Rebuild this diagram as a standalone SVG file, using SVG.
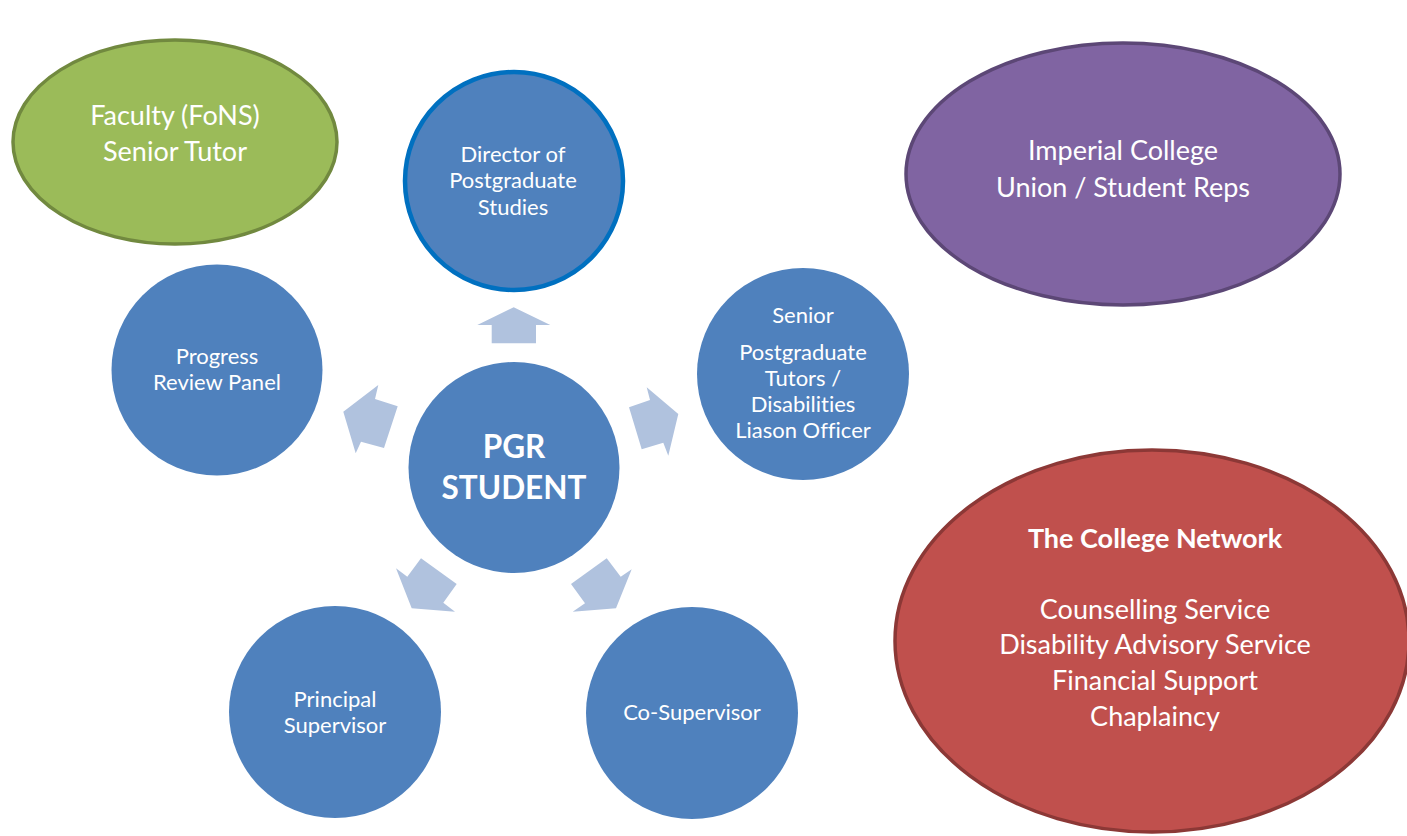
<svg xmlns="http://www.w3.org/2000/svg" width="1407" height="836" viewBox="0 0 1407 836">
  <style>
    .lbl { font-family: Lato, "Open Sans", "Liberation Sans", sans-serif; fill: #ffffff; text-anchor: middle; font-variant-ligatures: none; }
    .small { font-size: 22px; }
    .big { font-size: 27px; }
    .bold { font-weight: bold; }
    .hero { font-size: 31.5px; font-weight: bold; }
    .role { fill: #4f81bd; }
    .arrow { fill: #b0c2de; }
  </style>
  <rect width="1407" height="836" fill="#ffffff"/>

  <!-- outer support bodies -->
  <g id="faculty">
    <ellipse cx="175" cy="142" rx="162" ry="102" fill="#9bbb59" stroke="#71893f" stroke-width="3.5"/>
    <text class="lbl big" x="175" y="125">Faculty (FoNS)</text>
    <text class="lbl big" x="175" y="161">Senior Tutor</text>
  </g>
  <g id="union">
    <ellipse cx="1123" cy="174" rx="217" ry="131" fill="#8064a2" stroke="#5c4776" stroke-width="3.5"/>
    <text class="lbl big" x="1123" y="160">Imperial College</text>
    <text class="lbl big" x="1123" y="197">Union / Student Reps</text>
  </g>
  <g id="college-network">
    <ellipse cx="1152" cy="641" rx="257" ry="191" fill="#c0504d" stroke="#8c3836" stroke-width="3.5"/>
    <text class="lbl big bold" x="1155" y="548">The College Network</text>
    <text class="lbl big" x="1155" y="619">Counselling Service</text>
    <text class="lbl big" x="1155" y="654">Disability Advisory Service</text>
    <text class="lbl big" x="1155" y="690">Financial Support</text>
    <text class="lbl big" x="1155" y="726">Chaplaincy</text>
  </g>

  <!-- radial roles around the student -->
  <g id="director">
    <circle class="role" cx="514" cy="181" r="109" stroke="#0070c0" stroke-width="4.5"/>
    <text class="lbl small" x="513" y="162">Director of</text>
    <text class="lbl small" x="513" y="188">Postgraduate</text>
    <text class="lbl small" x="513" y="215">Studies</text>
  </g>
  <g id="senior-tutors">
    <circle class="role" cx="803" cy="374" r="106"/>
    <text class="lbl small" x="803" y="323">Senior</text>
    <text class="lbl small" x="803" y="360">Postgraduate</text>
    <text class="lbl small" x="803" y="386">Tutors /</text>
    <text class="lbl small" x="803" y="412">Disabilities</text>
    <text class="lbl small" x="803" y="438">Liason Officer</text>
  </g>
  <g id="co-supervisor">
    <circle class="role" cx="692" cy="713" r="106"/>
    <text class="lbl small" x="692" y="720">Co-Supervisor</text>
  </g>
  <g id="principal-supervisor">
    <circle class="role" cx="335" cy="712" r="106"/>
    <text class="lbl small" x="335" y="707">Principal</text>
    <text class="lbl small" x="335" y="733">Supervisor</text>
  </g>
  <g id="progress-panel">
    <circle class="role" cx="217" cy="370" r="105.5"/>
    <text class="lbl small" x="217" y="364">Progress</text>
    <text class="lbl small" x="217" y="390">Review Panel</text>
  </g>

  <g id="student">
    <circle class="role" cx="514" cy="467.5" r="105.5"/>
    <text class="lbl hero" x="514" y="458">PGR</text>
    <text class="lbl hero" x="514" y="499">STUDENT</text>
  </g>

  <!-- block arrows from the student outwards -->
  <g id="connectors">
    <polygon class="arrow" points="513.7,307.3 550.3,325 536,325 536,343.3 491.7,343.3 491.7,325 477.3,325"/>
    <polygon class="arrow" points="646.7,387.3 678.3,414 668.3,455.7 663.3,442.7 641.7,449.3 629,407.3 650,400"/>
    <polygon class="arrow" points="606.7,558.3 620.7,576.7 631.7,569.3 616,608.3 572.7,611.7 585,603.3 571,584"/>
    <polygon class="arrow" points="421,558.3 456.7,584 443.3,602.7 455,611.7 411.7,608.3 396,568.3 407.3,576.7"/>
    <polygon class="arrow" points="378.3,385 343.3,411.7 355.7,453.3 361,441.7 384,448 397.7,406.3 375,399"/>
  </g>
</svg>
